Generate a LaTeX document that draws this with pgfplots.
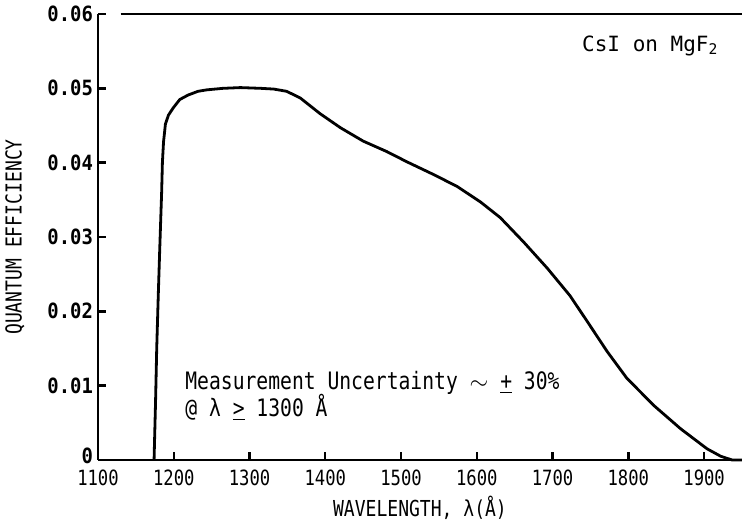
\documentclass[border=0pt]{standalone}
\usepackage{pgfplots}
\pgfplotsset{compat=1.18}
\usepackage{fontspec}
\setmainfont{DejaVu Sans Mono}
\newfontfamily\tickfont[FakeStretch=0.82]{DejaVu Sans Mono}
\newfontfamily\boldtick[FakeStretch=0.9]{DejaVu Sans Mono Bold}
\pgfplotstableread{
x y
1174 0
1176 0.008
1177.5 0.015
1179.5 0.022
1181.5 0.0284
1183 0.0330
1184 0.0360
1185 0.0400
1186.5 0.0428
1189 0.0452
1193 0.0464
1199.5 0.0474
1208 0.0485
1219 0.0491
1232 0.0496
1244 0.0498
1265 0.0500
1288 0.0501
1315 0.0500
1332 0.0499
1349 0.0496
1367 0.0487
1393 0.0466
1420 0.0447
1450 0.0429
1481 0.0415
1508 0.0401
1543 0.0384
1574 0.0368
1605 0.0347
1631 0.0326
1662 0.0293
1693 0.0258
1723 0.0221
1746 0.0186
1772 0.0146
1798 0.0110
1834 0.0073
1869 0.0042
1904 0.0015
1922 0.0005
1937 0.0
1950 0.0
}\qe
\begin{document}
\begin{tikzpicture}
\begin{axis}[
  scale only axis,
  width=322pt, height=223pt,
  xmin=1100, xmax=1950,
  ymin=0, ymax=0.06,
  scaled x ticks=false, scaled y ticks=false,
  axis x line=bottom, axis y line=left,
  axis line style={-, line width=1.4pt},
  tick align=inside,
  major tick length=4pt,
  every tick/.style={line width=1.2pt, black},
  xtick={1100,1200,1300,1400,1500,1600,1700,1800,1900},
  xticklabels={1100,1200,1300,1400,1500,1600,1700,1800,1900},
  ytick={0,0.01,0.02,0.03,0.04,0.05,0.06},
  yticklabels={\raisebox{4pt}{0},0.01,0.02,0.03,0.04,0.05,0.06},
  x tick label style={font=\tickfont\fontsize{10.5}{12}\selectfont, yshift=-1.5pt},
  y tick label style={font=\boldtick\fontsize{10.5}{12}\selectfont, xshift=1pt},
  xlabel={WAVELENGTH, λ(Å)},
  ylabel={QUANTUM EFFICIENCY},
  xlabel style={font=\tickfont\fontsize{11}{12}\selectfont, at={([yshift=-24pt]axis description cs:0.5,0)}, anchor=center},
  ylabel style={font=\tickfont\fontsize{11}{12}\selectfont, at={([xshift=-41.5pt]axis description cs:0,0.5)}, anchor=center},
  clip=false,
]
\addplot[black, line width=1.4pt, line join=round] table[x=x,y=y] {\qe};
\draw[black, line width=1.4pt] (axis cs:1130,0.06) -- (axis cs:1950,0.06);
\node[font=\fontsize{10.5}{12}\selectfont] at (axis cs:1829,0.0557) {CsI on MgF\textsubscript{2}};
\node[anchor=west, font=\tickfont\fontsize{12}{12}\selectfont] at (axis cs:1206,0.0104) {Measurement Uncertainty $\sim$ \underline{+} 30\%};
\node[anchor=west, font=\tickfont\fontsize{12}{12}\selectfont] at (axis cs:1206,0.0071) {@ λ \underline{>} 1300 Å};
\end{axis}
\pgfresetboundingbox
\path (-49pt,-31.5pt) rectangle (322pt,230pt);
\end{tikzpicture}
\end{document}
